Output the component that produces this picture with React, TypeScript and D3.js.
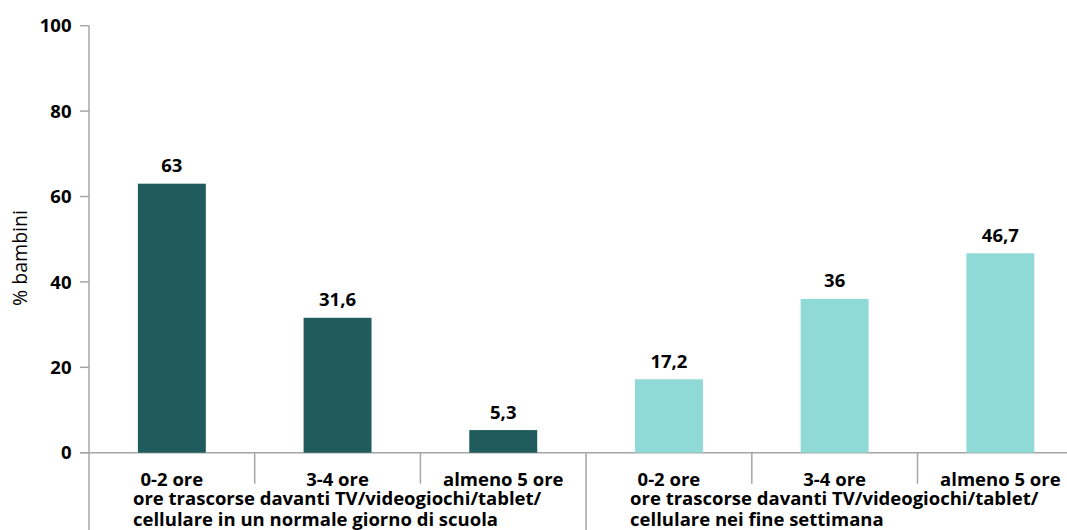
import React from "react";
import * as d3 from "d3";

const categories = ["0-2 ore", "3-4 ore", "almeno 5 ore", "0-2 ore ", "3-4 ore ", "almeno 5 ore "];
const values = [63, 31.6, 5.3, 17.2, 36, 46.7];
const valueLabels = ["63", "31,6", "5,3", "17,2", "36", "46,7"];
const groupIndex = [0, 0, 0, 1, 1, 1];
const groupLabels = [
  ["ore trascorse davanti TV/videogiochi/tablet/", "cellulare in un normale giorno di scuola"],
  ["ore trascorse davanti TV/videogiochi/tablet/", "cellulare nei fine settimana"],
];
const groupColors = ["#1F5C5B", "#8FDAD7"];
const yTicks = [0, 20, 40, 60, 80, 100];
const yTitle = "% bambini";

const W = 1067;
const H = 530;
const axisX = 89;
const step = 165.7;
const y0 = 452.7;
const y100 = 25.7;
const FONT = "'Open Sans', Lato, sans-serif";
const GRAY = "#A6A6A6";

export default function App() {
  const x = d3
    .scaleBand<string>()
    .domain(categories)
    .range([axisX, axisX + step * categories.length])
    .paddingInner(0.59)
    .paddingOuter(0.295);
  const y = d3.scaleLinear().domain([0, 100]).range([y0, y100]);
  const bw = x.bandwidth();
  const st = x.step();
  const slotStart = (i: number) => axisX + i * st;

  return (
    <svg width={W} height={H} style={{ position: "absolute", left: 0, top: 0, background: "#fff" }}>
      {/* y axis */}
      <line x1={axisX} x2={axisX} y1={y(100)} y2={H} stroke={GRAY} strokeWidth={1.5} />
      {yTicks.map((t) => (
        <g key={t}>
          <line x1={axisX - 9} x2={axisX} y1={y(t)} y2={y(t)} stroke={GRAY} strokeWidth={1.5} />
          <text
            x={71.5}
            y={y(t)}
            dy="0.36em"
            textAnchor="end"
            fontFamily={FONT}
            fontWeight="bold"
            fontSize={18.5}
            fill="#000"
          >
            {t}
          </text>
        </g>
      ))}
      <text
        transform={`translate(27, 258) rotate(-90)`}
        textAnchor="middle"
        fontFamily={FONT}
        fontSize={19.5}
        fill="#000"
      >
        {yTitle}
      </text>
      {/* baseline */}
      <line x1={axisX - 9} x2={W} y1={y(0)} y2={y(0)} stroke={GRAY} strokeWidth={1.5} />
      {/* separators */}
      {categories.slice(1).map((c, k) => {
        const i = k + 1;
        const sx = slotStart(i);
        const long = groupIndex[i] !== groupIndex[i - 1];
        return (
          <line
            key={"s" + i}
            x1={sx}
            x2={sx}
            y1={y(0)}
            y2={long ? H : y(0) + 31}
            stroke={GRAY}
            strokeWidth={1.5}
          />
        );
      })}
      {/* bars */}
      {categories.map((c, i) => (
        <g key={"b" + i}>
          <rect
            x={x(c)}
            y={y(values[i])}
            width={bw}
            height={y(0) - y(values[i])}
            fill={groupColors[groupIndex[i]]}
          />
          <text
            x={(x(c) as number) + bw / 2}
            y={y(values[i]) - 11.5}
            textAnchor="middle"
            fontFamily={FONT}
            fontWeight="bold"
            fontSize={18.5}
            fill="#000"
          >
            {valueLabels[i]}
          </text>
          <text
            x={(x(c) as number) + bw / 2}
            y={486}
            textAnchor="middle"
            fontFamily={FONT}
            fontWeight="bold"
            fontSize={18.5}
            fill="#000"
          >
            {c.trim()}
          </text>
        </g>
      ))}
      {/* group labels */}
      {groupLabels.map((lines, g) => (
        <text
          key={"g" + g}
          x={slotStart(g * 3) + 44}
          y={505}
          fontFamily={FONT}
          fontWeight="bold"
          fontSize={18.5}
          fill="#000"
        >
          {lines.map((l, j) => (
            <tspan key={j} x={slotStart(g * 3) + 44} dy={j === 0 ? 0 : 21}>
              {l}
            </tspan>
          ))}
        </text>
      ))}
    </svg>
  );
}
